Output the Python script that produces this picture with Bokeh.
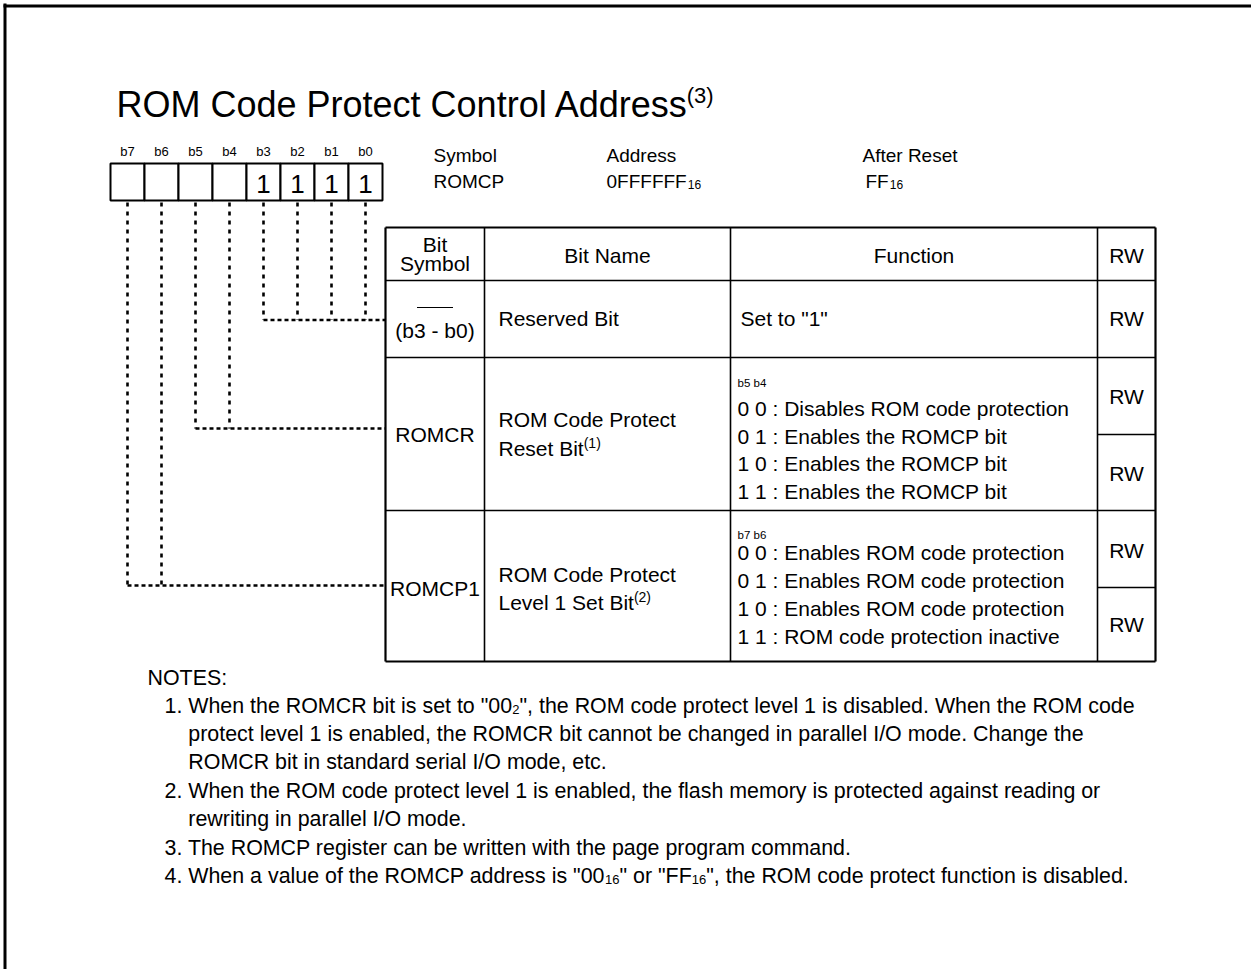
from bokeh.plotting import figure
from bokeh.models import Range1d
from bokeh.core.properties import value
from bokeh.embed import file_html
from bokeh.resources import INLINE

# ---------------- content ----------------
TITLE = "ROM Code Protect Control Address"
TITLE_NOTE = "(3)"
bit_labels = ["b7", "b6", "b5", "b4", "b3", "b2", "b1", "b0"]
bit_values = ["", "", "", "", "1", "1", "1", "1"]
info_headers = ["Symbol", "Address", "After Reset"]
info_values = ["ROMCP", "0FFFFFF", "FF"]
info_subs = ["", "16", "16"]
col_headers = ["Bit Name", "Function", "RW"]
sym_header = ["Bit", "Symbol"]
row_symbols = ["(b3 - b0)", "ROMCR", "ROMCP1"]
row_names = [["Reserved Bit"], ["ROM Code Protect", "Reset Bit"], ["ROM Code Protect", "Level 1 Set Bit"]]
row_name_notes = ["", "(1)", "(2)"]
row_bits = [[3, 2, 1, 0], [5, 4], [7, 6]]
func_heads = ["", "b5 b4", "b7 b6"]
func_lines = [
    ["Set to \"1\""],
    ["0 0 : Disables ROM code protection", "0 1 : Enables the ROMCP bit",
     "1 0 : Enables the ROMCP bit", "1 1 : Enables the ROMCP bit"],
    ["0 0 : Enables ROM code protection", "0 1 : Enables ROM code protection",
     "1 0 : Enables ROM code protection", "1 1 : ROM code protection inactive"],
]
rw_values = [["RW"], ["RW", "RW"], ["RW", "RW"]]
notes_title = "NOTES:"
# each line: (indent?, [(text, is_subscript), ...])
notes = [
    (False, [("1. When the ROMCR bit is set to \"00", False), ("2", True),
             ("\", the ROM code protect level 1 is disabled. When the ROM code", False)]),
    (True, [("protect level 1 is enabled, the ROMCR bit cannot be changed in parallel I/O mode.  Change the", False)]),
    (True, [("ROMCR bit in standard serial I/O mode, etc.", False)]),
    (False, [("2. When the ROM code protect level 1 is enabled, the flash memory is protected against reading or", False)]),
    (True, [("rewriting in parallel I/O mode.", False)]),
    (False, [("3. The ROMCP register can be written with the page program command.", False)]),
    (False, [("4. When a value of the ROMCP address is \"00", False), ("16", True), ("\" or \"FF", False),
             ("16", True), ("\", the ROM code protect function is disabled.", False)]),
]

# ---------------- layout helpers ----------------
FONT = "Liberation Sans"
_W = {' ': 278, '!': 278, '"': 355, '#': 556, '$': 556, '%': 889, '&': 667, "'": 191, '(': 333, ')': 333,
      '*': 389, '+': 584, ',': 278, '-': 333, '.': 278, '/': 278, ':': 278, ';': 278, '<': 584, '=': 584,
      '>': 584, '?': 556, '@': 1015, 'A': 667, 'B': 667, 'C': 722, 'D': 722, 'E': 667, 'F': 611, 'G': 778,
      'H': 722, 'I': 278, 'J': 500, 'K': 667, 'L': 556, 'M': 833, 'N': 722, 'O': 778, 'P': 667, 'Q': 778,
      'R': 722, 'S': 667, 'T': 611, 'U': 722, 'V': 667, 'W': 944, 'X': 667, 'Y': 667, 'Z': 611,
      'a': 556, 'b': 556, 'c': 500, 'd': 556, 'e': 556, 'f': 278, 'g': 556, 'h': 556, 'i': 222, 'j': 222,
      'k': 500, 'l': 222, 'm': 833, 'n': 556, 'o': 556, 'p': 556, 'q': 556, 'r': 333, 's': 500, 't': 278,
      'u': 556, 'v': 500, 'w': 722, 'x': 500, 'y': 500, 'z': 500}


def tw(s, size):
    return sum(_W.get(c, 556) for c in s) / 1000.0 * size


p = figure(width=1251, height=969, x_range=Range1d(0, 1251), y_range=Range1d(969, 0),
           x_axis_type=None, y_axis_type=None, toolbar_location=None, output_backend="svg",
           min_border=0, outline_line_color=None, background_fill_color="white",
           border_fill_color="white")
p.grid.visible = False


def txt(xs, ys, texts, size, align="left"):
    p.text(x=xs, y=ys, text=texts, text_font=value(FONT), text_font_size=value(f"{size}px"),
           text_align=align, text_baseline="middle", text_color="black")


def seg(x0, y0, x1, y1, w=2.0, dash=None):
    kw = dict(line_color="black", line_width=w)
    if dash:
        kw["line_dash"] = dash
    p.segment(x0=x0, y0=y0, x1=x1, y1=y1, **kw)


# ---------------- outer frame ----------------
seg([4.5, 3], [3, 5.5], [4.5, 1251], [969, 5.5], w=3)

# ---------------- title ----------------
TSIZE = 36
TX0, TY0 = 116, 104
txt([TX0], [TY0], [TITLE], TSIZE)
txt([TX0 + tw(TITLE, TSIZE) - 2], [TY0 - 9], [TITLE_NOTE], 22)

# ---------------- bit boxes ----------------
BX0, BW, BT, BB = 110, 34, 163, 200
lefts = [BX0 + i * BW for i in range(8)]
centers = [l + BW / 2 for l in lefts]
p.quad(left=lefts, right=[l + BW for l in lefts], top=[BT] * 8, bottom=[BB] * 8,
       fill_color="white", line_color="black", line_width=2)
txt(centers, [151] * 8, bit_labels, 13, "center")
txt([c for c, v in zip(centers, bit_values) if v], [183] * bit_values.count("1"),
    [v for v in bit_values if v], 26, "center")

# ---------------- info header ----------------
IX = [433, 606, 862]
txt(IX, [155] * 3, info_headers, 19)
vx = [IX[0], IX[1], IX[2] + 3]
txt(vx, [181] * 3, info_values, 19)
sx = [x + tw(v, 19) + 1 for x, v in zip(vx, info_values)]
txt([s for s, t in zip(sx, info_subs) if t], [184, 184], [t for t in info_subs if t], 12)

# ---------------- table ----------------
CX = [385, 484, 730, 1097, 1155]
RY = [227, 280, 357, 510, 661]
RWSUB = [434, 587]
FS = 21
# outer box
seg([CX[0], CX[0], CX[-1], CX[0]], [RY[0], RY[-1], RY[0], RY[0]],
    [CX[0], CX[-1], CX[-1], CX[-1]], [RY[-1], RY[-1], RY[-1], RY[0]], w=2.2)
# inner columns
seg(CX[1:4], [RY[0]] * 3, CX[1:4], [RY[-1]] * 3, w=1.6)
# inner rows
seg([CX[0]] * 3, RY[1:4], [CX[-1]] * 3, RY[1:4], w=1.6)
# rw sub rows
seg([CX[3]] * 2, RWSUB, [CX[4]] * 2, RWSUB, w=1.3)

# headers
hy = (RY[0] + RY[1]) / 2
txt([(CX[0] + CX[1]) / 2] * 2, [hy - 10, hy + 9], sym_header, FS, "center")
txt([(CX[i] + CX[i + 1]) / 2 for i in range(1, 4)], [hy + 1] * 3, col_headers, FS, "center")

# bit symbol column
symc = (CX[0] + CX[1]) / 2
seg([symc - 18], [307], [symc + 18], [307], w=1)
sym_y = [330, 434, 588]
txt([symc] * 3, sym_y, row_symbols, FS, "center")

# bit names
name_y = [[318], [419, 448], [574, 602]]
for names, ys, note in zip(row_names, name_y, row_name_notes):
    txt([498] * len(names), ys, names, FS)
    if note:
        txt([498 + tw(names[-1], FS)], [ys[-1] - 6], [note], 14)

# functions
fx = 737
txt([fx + 3], [318], func_lines[0], FS)
head_y = [None, 382, 534]
line_y = [None, [408, 436, 463, 491], [552, 580, 608, 636]]
for i in (1, 2):
    txt([fx], [head_y[i]], [func_heads[i]], 11.5)
    txt([fx] * 4, line_y[i], func_lines[i], FS)

# RW
rwc = (CX[3] + CX[4]) / 2
rw_y = [[318], [396, 473], [550, 624]]
for vals, ys in zip(rw_values, rw_y):
    txt([rwc] * len(vals), ys, vals, FS, "center")

# ---------------- dotted connectors ----------------
targets = [319.5, 428, 585]
for bits, ty in zip(row_bits, targets):
    xs = [centers[7 - b] for b in bits]
    seg(xs, [BB + 2] * len(xs), xs, [ty] * len(xs), w=2.6, dash="4 5")
    seg([min(xs)], [ty], [CX[0]], [ty], w=2.6, dash="4 3")

# ---------------- notes ----------------
NFS = 21.4
txt([147], [677], [notes_title], NFS)
NY = [705, 733, 761, 790, 818, 847, 875]
for (indent, segs), y in zip(notes, NY):
    x = 164 + (tw("1. ", NFS) if indent else 0)
    for t, sub in segs:
        if sub:
            txt([x], [y + 4], [t], 13)
            x += tw(t, 13)
        else:
            txt([x], [y], [t], NFS)
            x += tw(t, NFS)

open("out.html", "w").write(file_html(p, INLINE))
